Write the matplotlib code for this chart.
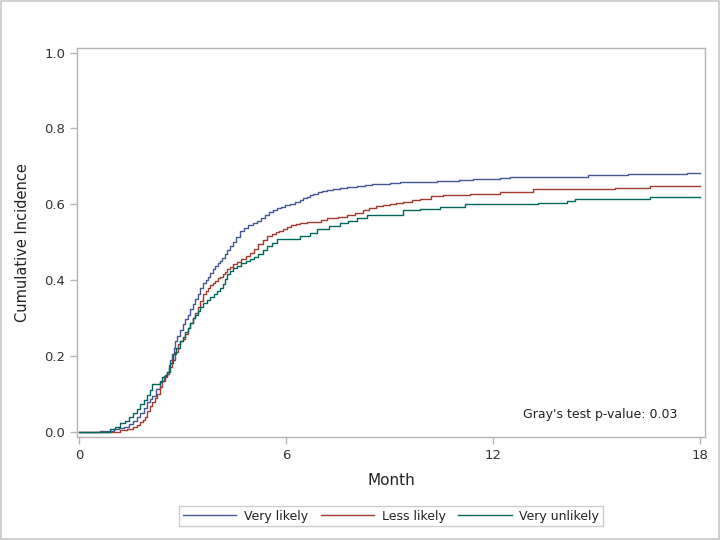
# Cumulative incidence by group, step curves (Gray's test)
import matplotlib
matplotlib.use("Agg")
import matplotlib.pyplot as plt
from matplotlib.patches import Rectangle

groups = ["Very likely", "Less likely", "Very unlikely"]
colors = ["#445694", "#A23A2E", "#01665E"]

very_likely_t = [0, 0.6, 1.0, 1.15, 1.3, 1.45, 1.57, 1.67, 1.77, 1.87, 1.97, 2.05, 2.12, 2.22,
                 2.35, 2.45, 2.55, 2.60, 2.64, 2.70, 2.74, 2.78, 2.85, 2.93, 3.01, 3.08, 3.15,
                 3.22, 3.30, 3.37, 3.45, 3.52, 3.59, 3.67, 3.75, 3.81, 3.88, 3.95, 4.02, 4.08,
                 4.14, 4.22, 4.30, 4.38, 4.46, 4.56, 4.67, 4.78, 4.9, 5.03, 5.16, 5.28, 5.40,
                 5.51, 5.62, 5.74, 5.85, 5.98, 6.12, 6.26, 6.41, 6.50, 6.60, 6.69, 6.78, 6.92,
                 7.05, 7.20, 7.35, 7.55, 7.77, 8.05, 8.30, 8.50, 8.72, 9.0, 9.30, 9.60, 9.88,
                 10.38, 11.0, 11.42, 12.2, 12.49, 14.75, 15.91, 17.62, 18.0]
very_likely_y = [0, 0.003, 0.008, 0.011, 0.015, 0.022, 0.03, 0.041, 0.052, 0.065, 0.079,
                 0.087, 0.095, 0.114, 0.136, 0.148, 0.16, 0.176, 0.19, 0.206, 0.222, 0.24,
                 0.254, 0.27, 0.285, 0.298, 0.31, 0.325, 0.338, 0.352, 0.365, 0.38, 0.393,
                 0.402, 0.41, 0.42, 0.43, 0.437, 0.445, 0.451, 0.458, 0.469, 0.48, 0.49, 0.50,
                 0.515, 0.529, 0.537, 0.545, 0.551, 0.557, 0.565, 0.572, 0.579, 0.586, 0.590,
                 0.594, 0.598, 0.602, 0.607, 0.612, 0.616, 0.62, 0.624, 0.628, 0.632, 0.636,
                 0.638, 0.641, 0.643, 0.645, 0.649, 0.652, 0.653, 0.655, 0.657, 0.658, 0.659,
                 0.660, 0.662, 0.665, 0.668, 0.670, 0.673, 0.678, 0.680, 0.683, 0.683]

less_likely_t = [0, 0.9, 1.19, 1.40, 1.57, 1.67, 1.77, 1.84, 1.90, 1.97, 2.05, 2.12, 2.19,
                 2.26, 2.34, 2.41, 2.48, 2.55, 2.62, 2.70, 2.79, 2.87, 2.94, 3.01, 3.08, 3.15,
                 3.22, 3.30, 3.37, 3.45, 3.52, 3.59, 3.67, 3.75, 3.81, 3.88, 3.95, 4.02, 4.10,
                 4.17, 4.23, 4.30, 4.38, 4.46, 4.58, 4.70, 4.83, 4.96, 5.08, 5.20, 5.33, 5.45,
                 5.58, 5.70, 5.80, 5.91, 6.03, 6.15, 6.28, 6.41, 6.60, 6.78, 7.0, 7.2, 7.5,
                 7.77, 8.0, 8.23, 8.4, 8.6, 8.8, 9.01, 9.20, 9.40, 9.65, 9.88, 10.2, 10.55,
                 11.33, 12.20, 13.16, 15.54, 16.55, 18.0]
less_likely_y = [0, 0.002, 0.005, 0.009, 0.013, 0.019, 0.026, 0.033, 0.04, 0.057, 0.068,
                 0.08, 0.09, 0.10, 0.118, 0.136, 0.145, 0.154, 0.172, 0.19, 0.212, 0.233,
                 0.240, 0.246, 0.26, 0.275, 0.288, 0.30, 0.315, 0.33, 0.347, 0.364, 0.372,
                 0.38, 0.387, 0.393, 0.399, 0.405, 0.41, 0.416, 0.423, 0.43, 0.436, 0.442,
                 0.449, 0.455, 0.463, 0.471, 0.483, 0.495, 0.506, 0.516, 0.522, 0.527, 0.531,
                 0.534, 0.540, 0.545, 0.548, 0.55, 0.553, 0.555, 0.560, 0.565, 0.568, 0.571,
                 0.578, 0.586, 0.590, 0.595, 0.598, 0.60, 0.604, 0.607, 0.611, 0.615, 0.621,
                 0.626, 0.628, 0.633, 0.641, 0.644, 0.649, 0.649]

very_unlikely_t = [0, 0.6, 0.90, 1.05, 1.19, 1.33, 1.45, 1.57, 1.67, 1.77, 1.87, 1.97, 2.05,
                   2.12, 2.35, 2.41, 2.48, 2.55, 2.63, 2.72, 2.82, 2.93, 3.01, 3.08, 3.15,
                   3.22, 3.30, 3.37, 3.45, 3.52, 3.59, 3.70, 3.80, 3.90, 4.0, 4.08, 4.17,
                   4.23, 4.29, 4.38, 4.46, 4.58, 4.70, 4.83, 4.96, 5.08, 5.20, 5.33, 5.45,
                   5.60, 5.74, 6.03, 6.41, 6.70, 6.90, 7.25, 7.57, 7.80, 8.06, 8.35, 9.39,
                   9.88, 10.46, 11.19, 13.30, 14.14, 14.38, 16.55, 18.0]
very_unlikely_y = [0, 0.002, 0.008, 0.015, 0.024, 0.03, 0.04, 0.05, 0.062, 0.075, 0.086,
                   0.097, 0.112, 0.128, 0.132, 0.145, 0.152, 0.16, 0.183, 0.206, 0.223, 0.24,
                   0.25, 0.263, 0.275, 0.288, 0.30, 0.31, 0.32, 0.33, 0.34, 0.348, 0.355,
                   0.364, 0.372, 0.381, 0.39, 0.403, 0.416, 0.424, 0.432, 0.438, 0.445, 0.45,
                   0.455, 0.462, 0.47, 0.48, 0.49, 0.499, 0.508, 0.51, 0.516, 0.524, 0.534,
                   0.542, 0.55, 0.556, 0.563, 0.573, 0.586, 0.589, 0.594, 0.60, 0.605, 0.61,
                   0.613, 0.62, 0.62]

x_ticks = [0, 6, 12, 18]
y_ticks = [0.0, 0.2, 0.4, 0.6, 0.8, 1.0]
p_text = "Gray's test p-value: 0.03"

fig = plt.figure(figsize=(7.2, 5.4), dpi=100)
fig.patches.append(Rectangle((0.001, 0.001), 0.998, 0.998, transform=fig.transFigure,
                             fill=False, edgecolor="#c8c8c8", linewidth=1.2))
ax = fig.add_axes([0.1069, 0.1913, 0.979 - 0.1069, 0.9117 - 0.1913])

series = [(very_likely_t, very_likely_y), (less_likely_t, less_likely_y),
          (very_unlikely_t, very_unlikely_y)]
for (t, y), name, c in zip(series, groups, colors):
    ax.plot(t, y, drawstyle="steps-post", color=c, lw=1.0, label=name)

ax.set_xlim(-0.06, 18.14)
ax.set_ylim(-0.0116, 1.0127)
ax.set_xticks(x_ticks)
ax.set_yticks(y_ticks)
ax.set_yticklabels([f"{v:.1f}" for v in y_ticks])
for s in ax.spines.values():
    s.set_color("#b4b4b4")
    s.set_linewidth(1.0)
ax.tick_params(colors="#b4b4b4", labelcolor="#333333", labelsize=9.5, length=5, width=1)

ax.set_xlabel("Month", fontsize=11, color="#222222", labelpad=8)
ax.set_ylabel("Cumulative Incidence", fontsize=10.5, color="#222222", labelpad=10)

ax.text(0.956, 0.04, p_text, transform=ax.transAxes, ha="right", va="bottom",
        fontsize=9, color="#222222")

leg = fig.legend(loc="center", bbox_to_anchor=(0.543, 0.044), ncol=3, frameon=True,
                 fancybox=False, fontsize=9, handlelength=4.3, columnspacing=1.0,
                 handletextpad=0.6, borderpad=0.3, edgecolor="#c0c0c0")
leg.get_frame().set_linewidth(1.0)
for txt in leg.get_texts():
    txt.set_color("#222222")

fig.savefig("out.png", dpi=100)
